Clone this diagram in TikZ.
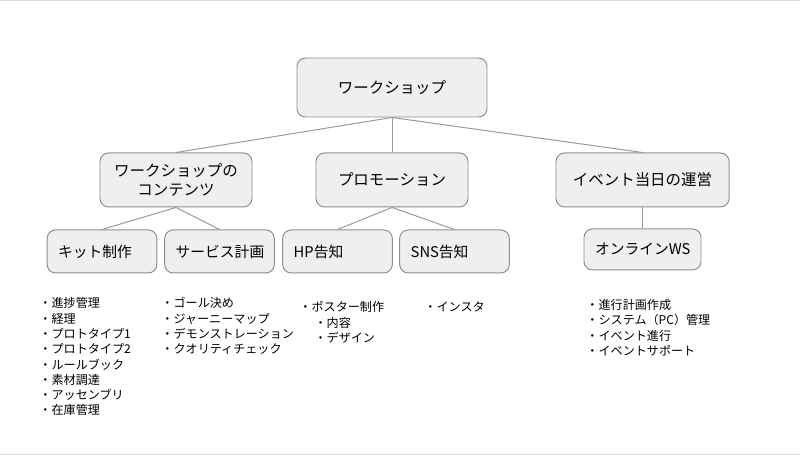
\documentclass[tikz,border=0pt]{standalone}
\usepackage{fontspec}
\setmainfont{Noto Sans CJK JP}
\usetikzlibrary{positioning}
\definecolor{boxFill}{HTML}{EFEFEF}
\definecolor{boxStroke}{HTML}{8E8E8E}
\definecolor{linkGray}{HTML}{999999}
\definecolor{edgeGray}{HTML}{DCDCDC}

\begin{document}
\begin{tikzpicture}[
    font=\fontsize{11pt}{13.3pt}\selectfont,
    line width=0.7pt,
    topbox/.style={
        rectangle, rounded corners=6pt,
        draw=boxStroke, fill=boxFill,
        align=center, minimum width=4.75cm,
        minimum height=1.475cm, inner sep=2pt
    },
    midbox/.style={
        rectangle, rounded corners=6pt,
        draw=boxStroke, fill=boxFill,
        align=center, minimum width=3.8cm,
        minimum height=1.35cm, inner sep=2pt
    },
    leafbox/.style={
        rectangle, rounded corners=6pt,
        draw=boxStroke, fill=boxFill,
        font=\fontsize{10.5pt}{12.5pt}\selectfont,
        align=left, text width=2.19cm,
        minimum height=1.075cm, inner xsep=0.275cm, inner ysep=2pt
    },
    link/.style={
        draw=linkGray, line width=0.7pt
    },
    itemlist/.style={
        anchor=north west, align=left, inner sep=0pt,
        font=\fontsize{8.6pt}{10.9pt}\selectfont
    }
]
    \useasboundingbox (0,0) rectangle (20,-11.375);
    \draw[edgeGray, line width=1.5pt] (0,0) -- (20,0);
    \draw[edgeGray, line width=1.2pt] (0,-11.375) -- (20,-11.375);

    \node[topbox] (root) at (9.8,-2.1875) {ワークショップ};

    \node[midbox, below=0.875cm of root, xshift=-5.4cm] (content) {ワークショップの\\コンテンツ};
    \node[midbox, below=0.875cm of root] (promo) {プロモーション};
    \node[midbox, below=0.875cm of root, xshift=6.2625cm, minimum width=4.325cm] (event) {イベント当日の運営};

    \node[leafbox, below=0.55cm of content, xshift=-1.85cm] (kit) {キット制作};
    \node[leafbox, below=0.55cm of content, xshift=1.0875cm] (service) {サービス計画};
    \node[leafbox, below=0.55cm of promo, xshift=-1.3625cm] (hp) {HP告知};
    \node[leafbox, below=0.55cm of promo, xshift=1.5625cm] (sns) {SNS告知};
    \node[leafbox, below=0.525cm of event, text width=2.375cm, minimum height=1.025cm] (online) {オンラインWS};

    \draw[link] (root.south) -- (content.north);
    \draw[link] (root.south) -- (promo.north);
    \draw[link] (root.south) -- (event.north);
    \draw[link] (content.south) -- (kit.north);
    \draw[link] (content.south) -- (service.north);
    \draw[link] (promo.south) -- (hp.north);
    \draw[link] (promo.south) -- (sns.north);
    \draw[link] (event.south) -- (online.north);

    % task lists under the boxes
    \node[itemlist] (kitlist) at (0.975,-7.425) {・進捗管理\\・経理\\・プロトタイプ1\\・プロトタイプ2\\・ルールブック\\・素材調達\\・アッセンブリ\\・在庫管理};
    \node[itemlist] (servicelist) at (4.025,-7.425) {・ゴール決め\\・ジャーニーマップ\\・デモンストレーション\\・クオリティチェック};
    \node[itemlist] (hplist) at (7.475,-7.525) {・ポスター制作\\\hspace*{1.25em}・内容\\\hspace*{1.25em}・デザイン};
    \node[itemlist] (snslist) at (10.6,-7.525) {・インスタ};
    \node[itemlist] (onlinelist) at (14.65,-7.475) {・進行計画作成\\・システム（PC）管理\\・イベント進行\\・イベントサポート};
\end{tikzpicture}
\end{document}
